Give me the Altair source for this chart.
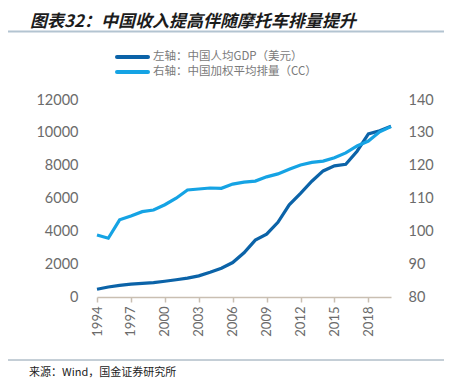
import altair as alt
import pandas as pd

years = list(range(1994, 2021))
gdp = [473, 610, 709, 782, 829, 873, 959, 1053, 1149, 1289, 1509, 1753, 2099, 2694,
       3468, 3832, 4550, 5618, 6317, 7051, 7679, 7990, 8080, 8879, 9930, 10130, 10400]
cc = [98.9, 97.9, 103.5, 104.7, 106.0, 106.5, 108.1, 110.1, 112.6, 112.9, 113.2, 113.1,
      114.4, 115.0, 115.3, 116.6, 117.5, 118.9, 120.2, 121.0, 121.4, 122.4, 123.9, 126.0,
      127.5, 130.3, 131.9]
x_ticks = [1994, 1997, 2000, 2003, 2006, 2009, 2012, 2015, 2018]
left_ticks = [0, 2000, 4000, 6000, 8000, 10000, 12000]
right_ticks = [80, 90, 100, 110, 120, 130, 140]
title_text = "图表32：中国收入提高伴随摩托车排量提升"
legend_labels = ["左轴：中国人均GDP（美元）", "右轴：中国加权平均排量（CC）"]
source_text = "来源：Wind，国金证券研究所"

DARK = "#0b63a8"
LIGHT = "#15a3e4"
GRAY = "#6b6b6b"
FONT = "Lato"
CJK = "Noto Sans CJK SC"

df = pd.DataFrame({"year": years, "gdp": gdp, "cc": cc})
one = pd.DataFrame({"a": [0]})

x_enc = alt.X("year:Q", scale=alt.Scale(domain=[1994, 2020], nice=False, zero=False),
              axis=alt.Axis(values=x_ticks, format="d", title=None, labelAngle=270,
                            labelAlign="right", labelBaseline="middle",
                            labelFontSize=13, labelFont=FONT, labelColor=GRAY,
                            domainColor="#c9bfb2", domainWidth=1.5, tickColor="#c9bfb2",
                            tickSize=5, tickWidth=1.5, labelPadding=4, grid=False))

left = alt.Chart(df).mark_line(color=DARK, strokeWidth=3.2).encode(
    x=x_enc,
    y=alt.Y("gdp:Q", scale=alt.Scale(domain=[0, 12000], nice=False),
            axis=alt.Axis(values=left_ticks, format="d", title=None, orient="left",
                          domain=False, ticks=False, grid=False, labelFontSize=14.5,
                          labelFont=FONT, labelColor=GRAY, labelPadding=19)))

right = alt.Chart(df).mark_line(color=LIGHT, strokeWidth=3.2).encode(
    x=x_enc,
    y=alt.Y("cc:Q", scale=alt.Scale(domain=[80, 140], nice=False, zero=False),
            axis=alt.Axis(values=right_ticks, format="d", title=None, orient="right",
                          domain=False, ticks=False, grid=False, labelFontSize=14.5,
                          labelFont=FONT, labelColor=GRAY, labelPadding=17)))

base = alt.Chart(one)

title = base.mark_text(font=CJK, fontSize=17, fontWeight="bold", fontStyle="italic",
                       color="#1c1c1c", align="left", baseline="middle").encode(
    x=alt.value(-67), y=alt.value(-78), text=alt.value(title_text))
top_rule = base.mark_rule(color="#b3c4d1", strokeWidth=2).encode(
    x=alt.value(-97), x2=alt.value(355), y=alt.value(-68.5))
leg1_line = base.mark_rule(color=DARK, strokeWidth=4, strokeCap="round").encode(
    x=alt.value(20), x2=alt.value(51), y=alt.value(-43))
leg2_line = base.mark_rule(color=LIGHT, strokeWidth=4, strokeCap="round").encode(
    x=alt.value(20), x2=alt.value(51), y=alt.value(-28))
leg1_text = base.mark_text(font=CJK, fontSize=11.5, color="#7a7a7a", align="left",
                           baseline="middle").encode(
    x=alt.value(56), y=alt.value(-43), text=alt.value(legend_labels[0]))
leg2_text = base.mark_text(font=CJK, fontSize=11.5, color="#7a7a7a", align="left",
                           baseline="middle").encode(
    x=alt.value(56), y=alt.value(-28), text=alt.value(legend_labels[1]))
bottom_rule = base.mark_rule(color="#8a9eae", strokeWidth=1).encode(
    x=alt.value(-97), x2=alt.value(355), y=alt.value(260))
source = base.mark_text(font=CJK, fontSize=11, color="#222222", align="left",
                        baseline="middle").encode(
    x=alt.value(-68), y=alt.value(273), text=alt.value(source_text))

chart = alt.layer(left, right, title, top_rule, leg1_line, leg2_line, leg1_text,
                  leg2_text, bottom_rule, source).resolve_scale(y="independent").properties(
    width=294, height=197,
    autosize=alt.AutoSizeParams(type="none"),
    padding={"left": 89, "top": 92, "right": 53, "bottom": 83},
).configure_view(stroke=None)

chart.save("out.html", embed_options={"renderer": "svg", "actions": False})
